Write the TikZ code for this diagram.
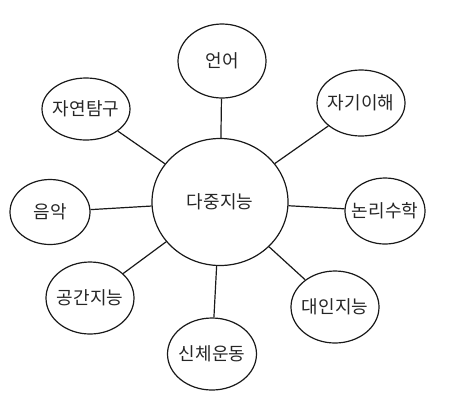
\documentclass[tikz,border=0pt]{standalone}
\usepackage{fontspec}
\newfontfamily\kr{Noto Sans CJK KR}
\usetikzlibrary{shapes.geometric}
\begin{document}
\begin{tikzpicture}[x=1pt,y=-1pt,
  bub/.style={ellipse,draw=black!90,line width=1.2pt,inner sep=0pt},
  lbl/.style={font=\kr\fontsize{18}{20}\selectfont,text=black!85},
  link/.style={draw=black!90,line width=1.2pt}]
\useasboundingbox (0,0) rectangle (470,416);
\node[bub,minimum width=136,minimum height=127,label={[lbl]center:다중지능}] (c) at (220,202) {};
\node[bub,minimum width=88,minimum height=74,label={[lbl]center:언어}] (lang) at (222,61) {};
\node[bub,minimum width=88,minimum height=62,label={[lbl]center:자연탐구}] (nat) at (86,109) {};
\node[bub,minimum width=88,minimum height=66,label={[lbl]center:자기이해}] (intra) at (361,103) {};
\node[bub,minimum width=80,minimum height=65,label={[lbl]center:음악}] (mus) at (50,212) {};
\node[bub,minimum width=80,minimum height=66,label={[lbl]center:논리수학}] (log) at (385,211) {};
\node[bub,minimum width=88,minimum height=72,label={[lbl]center:공간지능}] (spa) at (90,298) {};
\node[bub,minimum width=88,minimum height=72,label={[lbl]center:대인지능}] (inter) at (335,307) {};
\node[bub,minimum width=89,minimum height=72,label={[lbl]center:신체운동}] (body) at (212,354) {};
\foreach \n in {lang,nat,intra,mus,log,spa,inter,body} \draw[link] (c) -- (\n);
\end{tikzpicture}
\end{document}
